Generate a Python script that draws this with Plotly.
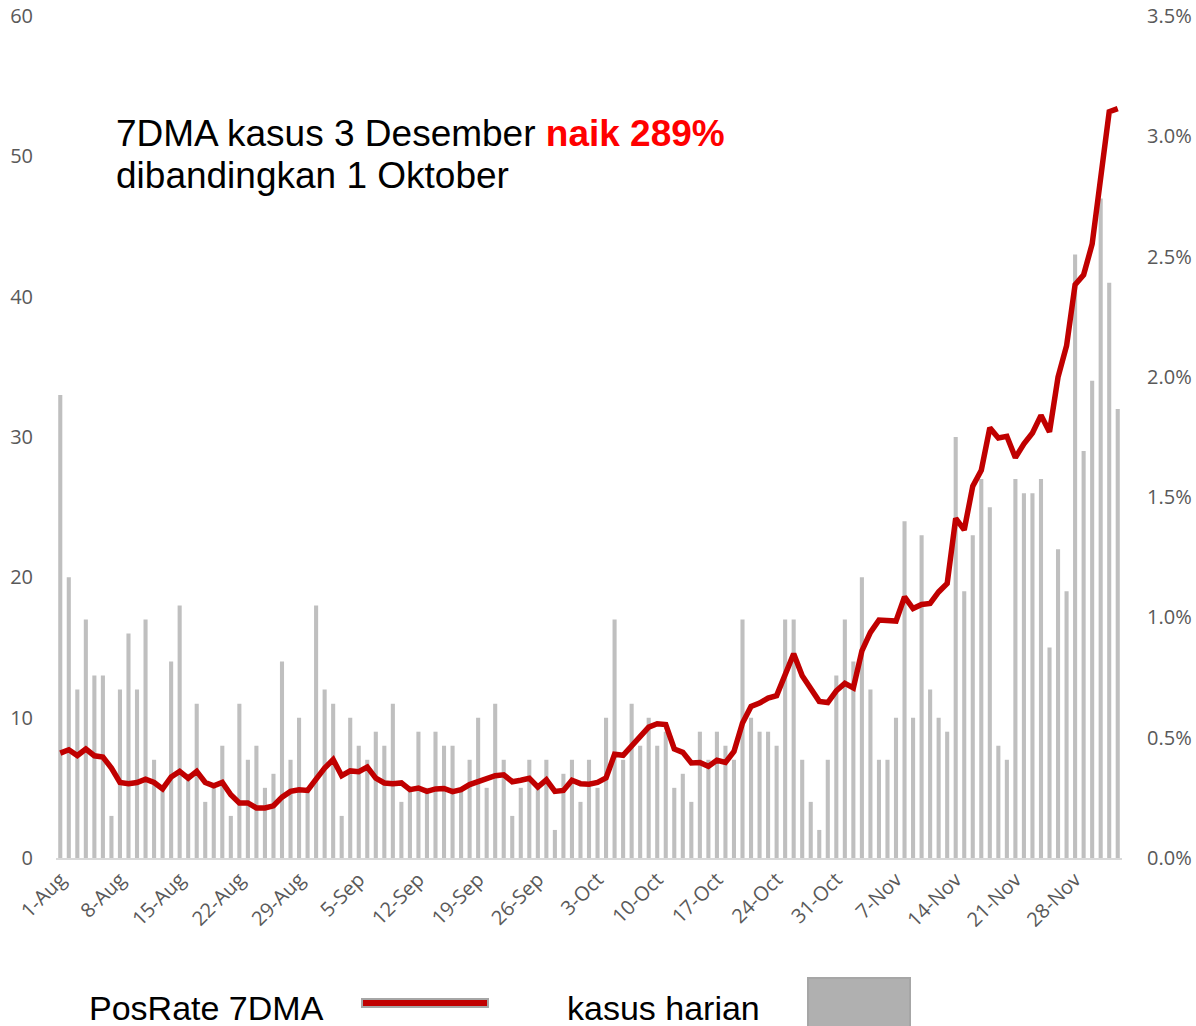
import pandas as pd
import plotly.graph_objects as go

# ---------------- data ----------------
dates = pd.date_range("2020-08-01", "2020-12-03", freq="D")
categories = [f"{d.day}-{d.strftime('%b')}" for d in dates]

kasus_harian = [
    33, 20, 12, 17, 13, 13, 3, 12, 16, 12, 17, 7, 5, 14, 18, 6, 11, 4, 5, 8,
    3, 11, 7, 8, 5, 6, 14, 7, 10, 5, 18, 12, 11, 3, 10,
    8, 7, 9, 8, 11, 4, 5, 9, 5, 9, 8, 8, 5, 7, 10, 5, 11, 7, 3, 5, 7, 5, 7, 2,
    6, 7, 4, 7, 5, 10, 17, 7,
    11, 8, 10, 8, 9, 5, 6, 4, 9, 7, 9, 8, 7, 17, 10, 9, 9, 8, 17, 17, 7, 4, 2,
    7, 13, 17, 14, 20, 12, 7, 7, 10,
    24, 10, 23, 12, 10, 9, 30, 19, 23, 27, 25, 8, 7, 27, 26, 26, 27, 15, 22, 19,
    43, 29, 34, 47, 41, 32,
]

posrate_7dma = [
    0.436, 0.450, 0.426, 0.453, 0.425, 0.420, 0.374, 0.314, 0.309, 0.314,
    0.328, 0.314, 0.287, 0.337, 0.360, 0.332, 0.360, 0.314, 0.300, 0.314,
    0.263, 0.229, 0.229, 0.208, 0.208, 0.217, 0.253, 0.277, 0.284, 0.281,
    0.328, 0.374, 0.409, 0.342, 0.362,
    0.359, 0.378, 0.332, 0.312, 0.309, 0.312, 0.284, 0.291, 0.277, 0.287,
    0.289, 0.276, 0.284, 0.305, 0.318, 0.325, 0.342, 0.346, 0.317, 0.323,
    0.331, 0.295, 0.325, 0.277, 0.281, 0.323, 0.309, 0.307, 0.314, 0.333,
    0.431, 0.427,
    0.464, 0.505, 0.544, 0.558, 0.555, 0.453, 0.439, 0.395, 0.397, 0.381,
    0.406, 0.397, 0.443, 0.561, 0.630, 0.644, 0.665, 0.675, 0.769, 0.849,
    0.758, 0.700, 0.651, 0.646, 0.695, 0.726, 0.707, 0.861, 0.938, 0.989,
    0.989, 0.985,
    1.085, 1.037, 1.054, 1.058, 1.106, 1.141, 1.412, 1.364, 1.546, 1.612,
    1.788, 1.746, 1.753, 1.664, 1.722, 1.767, 1.840, 1.771, 1.999, 2.129,
    2.383, 2.424, 2.552, 2.821, 3.102, 3.115,
]

tick_labels = categories[::7]

# ---------------- layout helpers ----------------
W, H = 1196, 1026
ML, MR, MT, MB = 56, 74, 16, 168
PW = W - ML - MR
PH = H - MT - MB


def px(x):
    return (x - ML) / PW


def py(y):
    return (H - MB - y) / PH


tick_font = dict(family="Open Sans, Lato, sans-serif", size=20, color="#595959")
text_font = "Liberation Sans, Arial, sans-serif"

fig = go.Figure()
fig.add_bar(
    x=categories, y=kasus_harian, name="kasus harian",
    marker=dict(color="#BFBFBF", line=dict(width=0)), showlegend=False,
)
fig.add_scatter(
    x=categories, y=posrate_7dma, name="PosRate 7DMA", yaxis="y2",
    mode="lines", line=dict(color="#C00000", width=5.5), showlegend=False,
)

fig.update_layout(
    template="none",
    width=W, height=H,
    margin=dict(l=ML, r=MR, t=MT, b=MB, pad=0),
    plot_bgcolor="white", paper_bgcolor="white",
    bargap=0.52,
    xaxis=dict(
        type="category", range=[-0.5, len(categories) - 0.5],
        tickmode="array", tickvals=tick_labels, ticktext=tick_labels,
        tickangle=-45, showgrid=False, showline=True, automargin=False,
        linecolor="#D9D9D9", linewidth=2, ticks="", zeroline=False,
        tickfont=tick_font,
    ),
    yaxis=dict(
        range=[0, 60], dtick=10, showgrid=False, zeroline=False,
        showline=False, ticks="outside", ticklen=18, automargin=False,
        tickcolor="rgba(0,0,0,0)", tickfont=tick_font,
    ),
    yaxis2=dict(
        overlaying="y", side="right", range=[0, 3.5], dtick=0.5,
        tickformat=".1f", ticksuffix="%", showgrid=False, zeroline=False,
        showline=False, ticks="outside", ticklen=20, automargin=False,
        tickcolor="rgba(0,0,0,0)", tickfont=tick_font,
    ),
    shapes=[
        dict(type="rect", xref="paper", yref="paper",
             x0=px(362), x1=px(488), y0=py(1007), y1=py(999),
             fillcolor="#C00000", line=dict(color="#A6A6A6", width=2)),
        dict(type="rect", xref="paper", yref="paper",
             x0=px(808), x1=px(910), y0=py(1032), y1=py(978),
             fillcolor="#B0B0B0", line=dict(color="#A6A6A6", width=2)),
    ],
    annotations=[
        dict(xref="paper", yref="paper", x=px(114), y=py(133),
             xanchor="left", yanchor="middle", showarrow=False,
             text="7DMA kasus 3 Desember <b><span style='color:#FF0000'>naik 289%</span></b>",
             font=dict(family=text_font, size=37, color="black")),
        dict(xref="paper", yref="paper", x=px(114), y=py(176),
             xanchor="left", yanchor="middle", showarrow=False,
             text="dibandingkan 1 Oktober",
             font=dict(family=text_font, size=37, color="black")),
        dict(xref="paper", yref="paper", x=px(87), y=py(1008),
             xanchor="left", yanchor="middle", showarrow=False,
             text="PosRate 7DMA",
             font=dict(family=text_font, size=34, color="black")),
        dict(xref="paper", yref="paper", x=px(565), y=py(1008),
             xanchor="left", yanchor="middle", showarrow=False,
             text="kasus harian",
             font=dict(family=text_font, size=34, color="black")),
    ],
)

fig.write_html(
    "out.html",
    config={"displayModeBar": False},
    post_script="document.body.style.margin='0';document.body.style.overflow='hidden';",
)
